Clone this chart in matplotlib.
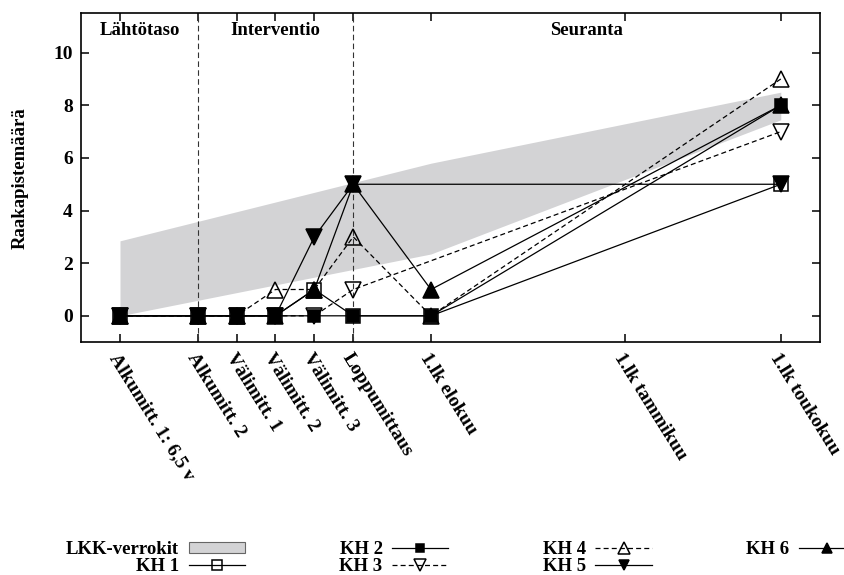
import numpy as np
import matplotlib

matplotlib.use("Agg")
import matplotlib.pyplot as plt
from matplotlib.patches import Patch

plt.rcParams["font.family"] = ["Liberation Serif", "DejaVu Serif"]
plt.rcParams["font.weight"] = "bold"
plt.rcParams["axes.labelweight"] = "bold"
plt.rcParams["font.size"] = 13.5

# measurement points (months from the first baseline measurement)
times = [0, 2, 3, 4, 5, 6, 8, 13, 17]
time_labels = ["Alkumitt. 1: 6,5 v", "Alkumitt. 2", "Välimitt. 1", "Välimitt. 2",
               "Välimitt. 3", "Loppumittaus", "1.lk elokuu", "1.lk tammikuu",
               "1.lk toukokuu"]

nan = np.nan
kh1 = [0, 0, 0, 0, 1, 0, 0, nan, 5]
kh2 = [0, 0, 0, 0, 0, 0, 0, nan, 8]
kh3 = [0, 0, 0, 0, 0, 1, nan, nan, 7]
kh4 = [0, 0, 0, 1, 1, 3, 0, nan, 9]
kh5 = [0, 0, 0, 0, 3, 5, nan, nan, 5]
kh6 = [0, 0, 0, 0, 1, 5, 1, nan, 8]

# LKK comparison group range
band_x = [0, 8, 17]
band_low = [0, 2.35, 7.45]
band_high = [2.85, 5.8, 8.5]

phases = ["Lähtötaso", "Interventio", "Seuranta"]
phase_bounds = [2, 6]

dash = (0, (4, 2.5))
# label, values, marker, face, linestyle, markersize
series = [
    ("KH 1", kh1, "s", "none", "-", 10),
    ("KH 2", kh2, "s", "black", "-", 8),
    ("KH 3", kh3, "v", "none", dash, 12),
    ("KH 4", kh4, "^", "none", dash, 12),
    ("KH 5", kh5, "v", "black", "-", 11),
    ("KH 6", kh6, "^", "black", "-", 11),
]

fig = plt.figure(figsize=(8.45, 5.75), dpi=100)
ax = fig.add_axes([0.096, 0.405, 0.874, 0.572])
xlim = (-1, 18)
ax.set_xlim(*xlim)
ax.set_ylim(-1, 11.5)

ax.fill_between(band_x, band_low, band_high, color="#d3d3d5", lw=0, zorder=1)

for b in phase_bounds:
    ax.axvline(b, color="#333333", lw=0.8, ls=(0, (5, 3)), zorder=2)

edges = [xlim[0]] + phase_bounds + [xlim[1]]
for name, lo, hi in zip(phases, edges[:-1], edges[1:]):
    ax.text((lo + hi) / 2, 10.85, name, ha="center", va="center", fontsize=13.5)

x = np.array(times, dtype=float)
handles = [Patch(facecolor="#d3d3d5", edgecolor="#666666", lw=0.8)]
labels = ["LKK-verrokit"]
for label, vals, marker, face, ls, ms in series:
    y = np.array(vals, dtype=float)
    ok = ~np.isnan(y)
    line, = ax.plot(x[ok], y[ok], color="black", lw=0.9, ls=ls, marker=marker,
                    markersize=ms, markerfacecolor=face, markeredgecolor="black",
                    markeredgewidth=1.1, zorder=3)
    handles.append(line)
    labels.append(label)

ax.set_xticks(times)
ax.set_xticklabels(time_labels)
plt.setp(ax.get_xticklabels(), rotation=-58, ha="left", va="top",
         rotation_mode="anchor", fontsize=14)
ax.set_yticks(range(0, 11, 2))
ax.tick_params(direction="in", length=6, width=1.1, top=True, right=True,
               labelsize=14, pad=6)
ax.set_ylabel("Raakapistemäärä", fontsize=13.5, labelpad=18)
for sp in ax.spines.values():
    sp.set_linewidth(1.2)

fig.legend(handles, labels, ncol=4, markerfirst=False, frameon=False,
           loc="upper left", bbox_to_anchor=(66 / 845, 1 - 541 / 575),
           borderpad=0, borderaxespad=0, handlelength=3.0, handleheight=0.5,
           handletextpad=0.5, columnspacing=5.05, labelspacing=0.0,
           markerscale=0.7, fontsize=13.5)

fig.savefig("out.png", dpi=100)
